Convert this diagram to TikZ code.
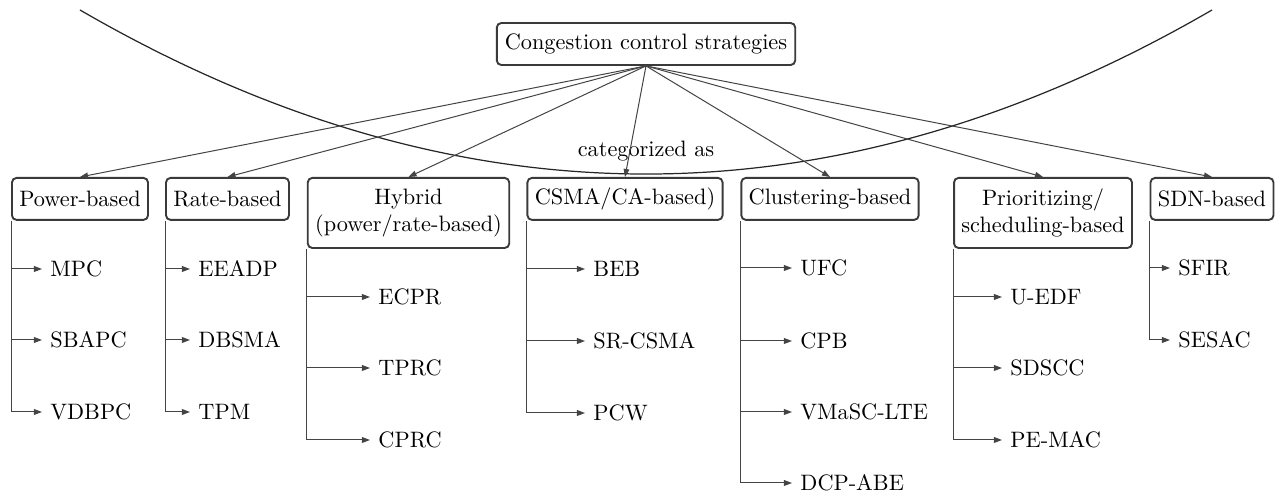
\documentclass[tikz,border=0pt]{standalone}
\usetikzlibrary{arrows.meta}
\definecolor{edgegray}{HTML}{444444}
\definecolor{boxgray}{HTML}{3A3A3A}
\begin{document}
\begin{tikzpicture}[x=0.4484pt,y=-0.4484pt,
  catbox/.style={draw=boxgray,line width=0.85pt,rounded corners=2pt,inner xsep=3.3pt,inner ysep=0pt,minimum height=18.8pt,align=center,anchor=north,font=\normalsize},
  catbox2/.style={catbox,minimum height=31.4pt},
  rootbox/.style={draw=boxgray,line width=0.85pt,rounded corners=2pt,inner xsep=3.6pt,inner ysep=0pt,minimum height=18.8pt},
  leaf/.style={anchor=west,inner xsep=3.6pt,inner ysep=0pt},
  conn/.style={draw=edgegray,line width=0.45pt,-{Triangle[length=3.6pt,width=2.6pt]}},
  treeline/.style={draw=edgegray,line width=0.45pt,-{Triangle[length=3.6pt,width=2.6pt]},rounded corners=0pt}]
\useasboundingbox (0,0) rectangle (1278,493);

% sweeping curve
\coordinate (cl) at (80,10);
\coordinate (cr) at (1212,10);
\draw[line width=0.55pt,black!85] (cl) .. controls (457.3,228.7) and (834.7,228.7) .. (cr);

\node[anchor=base] (cat) at (646,157) {categorized as};

\node[rootbox] (root) at (646,44) {Congestion control strategies};

\node[catbox] (pow) at (80,177) {Power-based};
\node[catbox] (rate) at (227.5,177) {Rate-based};
\node[catbox2] (hyb) at (408.5,177) {Hybrid\\(power/rate-based)};
\node[catbox] (csma) at (625,177) {CSMA/CA-based)};
\node[catbox] (clus) at (830,177) {Clustering-based};
\node[catbox2] (prio) at (1043,177) {Prioritizing/\\scheduling-based};
\node[catbox] (sdn) at (1212,177) {SDN-based};

\foreach \c in {pow,rate,hyb,csma,clus,prio,sdn}
  \draw[conn] (root.south) -- (\c.north);

% leaves
\node[leaf] (mpc) at (42,269) {MPC};
\node[leaf] (sbapc) at (42,340) {SBAPC};
\node[leaf] (vdbpc) at (42,412) {VDBPC};

\node[leaf] (eeadp) at (190,269) {EEADP};
\node[leaf] (dbsma) at (190,340) {DBSMA};
\node[leaf] (tpm) at (190,412) {TPM};

\node[leaf] (ecpr) at (370,297) {ECPR};
\node[leaf] (tprc) at (370,368) {TPRC};
\node[leaf] (cprc) at (370,440) {CPRC};

\node[leaf] (beb) at (585,269) {BEB};
\node[leaf] (srcsma) at (585,341) {SR-CSMA};
\node[leaf] (pcw) at (585,413) {PCW};

\node[leaf] (ufc) at (792,268) {UFC};
\node[leaf] (cpb) at (792,341) {CPB};
\node[leaf] (vmasc) at (792,412) {VMaSC-LTE};
\node[leaf] (dcp) at (792,483) {DCP-ABE};

\node[leaf] (uedf) at (1002,297) {U-EDF};
\node[leaf] (sdscc) at (1002,368) {SDSCC};
\node[leaf] (pemac) at (1002,440) {PE-MAC};

\node[leaf] (sfir) at (1170,268) {SFIR};
\node[leaf] (sesac) at (1170,340) {SESAC};

\foreach \p/\l in {pow/mpc,pow/sbapc,pow/vdbpc,
                   rate/eeadp,rate/dbsma,rate/tpm,
                   hyb/ecpr,hyb/tprc,hyb/cprc,
                   csma/beb,csma/srcsma,csma/pcw,
                   clus/ufc,clus/cpb,clus/vmasc,clus/dcp,
                   prio/uedf,prio/sdscc,prio/pemac,
                   sdn/sfir,sdn/sesac}
  \draw[treeline] (\p.south west) |- (\l.west);
\end{tikzpicture}
\end{document}
